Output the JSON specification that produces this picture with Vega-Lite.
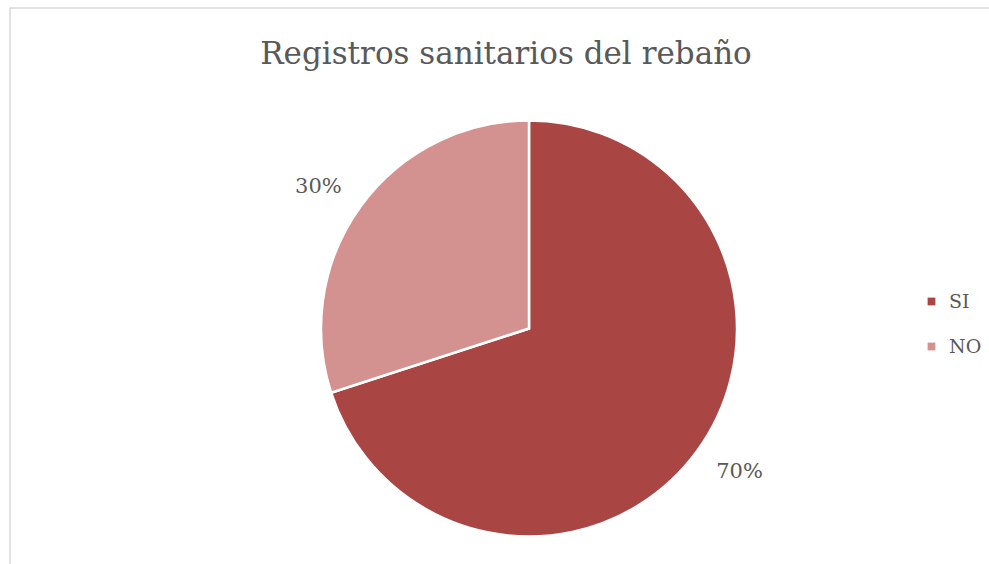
{
  "$schema": "https://vega.github.io/schema/vega-lite/v6.json",
  "autosize": {"type": "fit", "contains": "padding"},
  "width": 989,
  "height": 564,
  "padding": {"left": 10, "top": 8, "right": -3, "bottom": -3},
  "background": "white",
  "view": {"stroke": "#d9d9d9", "strokeWidth": 1.5},
  "title": {
    "text": "Registros sanitarios del rebaño",
    "font": "DejaVu Serif",
    "fontSize": 31,
    "fontWeight": "normal",
    "color": "#595959",
    "anchor": "middle",
    "offset": -63,
    "dx": 5
  },
  "data": {
    "values": [
      {"cat": "SI", "value": 0.7},
      {"cat": "NO", "value": 0.3}
    ]
  },
  "encoding": {
    "theta": {"field": "value", "type": "quantitative", "stack": true},
    "order": {"field": "value", "type": "quantitative", "sort": "descending"},
    "color": {
      "field": "cat",
      "type": "nominal",
      "sort": ["SI", "NO"],
      "scale": {"domain": ["SI", "NO"], "range": ["#a94543", "#d39290"]},
      "legend": {
        "title": null,
        "orient": "none",
        "legendX": 912,
        "legendY": 284,
        "symbolType": "square",
        "symbolSize": 60,
        "symbolStrokeWidth": 0,
        "labelFont": "DejaVu Serif",
        "labelFontSize": 19,
        "labelColor": "#595959",
        "rowPadding": 25,
        "labelOffset": 8
      }
    }
  },
  "layer": [
    {
      "mark": {"type": "arc", "radius": 208, "stroke": "white", "strokeWidth": 2.5, "xOffset": 28, "yOffset": 41}
    },
    {
      "mark": {"type": "text", "radius": 254, "thetaOffset": -0.035, "xOffset": 28, "yOffset": 42, "font": "DejaVu Serif", "fontSize": 21},
      "encoding": {
        "text": {"field": "value", "type": "quantitative", "format": ".0%"},
        "color": {"value": "#595959"}
      }
    }
  ]
}
